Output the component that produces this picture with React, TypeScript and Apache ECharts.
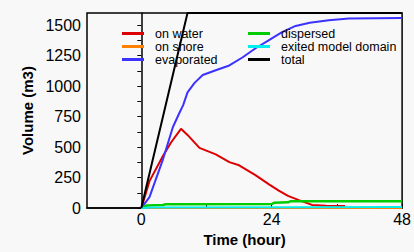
import React, { useEffect, useRef } from "react";
import * as echarts from "echarts";

const onWater: [number, number][] = [
  [0, 0], [1.5, 221], [4, 429], [5.5, 540], [7.3, 650], [8.5, 600], [10.7, 494], [13.7, 441],
  [16.2, 377], [18, 351], [21, 270], [23.5, 195], [25.3, 143], [27, 100], [29, 65],
  [31.4, 26], [34, 20], [37.5, 18],
];
const onShore: [number, number][] = [[0, 0], [48, 0]];
const evaporated: [number, number][] = [
  [0, 0], [1.5, 90], [4, 402], [5.8, 663], [7, 780], [7.7, 845], [8.5, 949], [9.8, 1027],
  [11.3, 1092], [13.7, 1131], [16.2, 1170], [18.6, 1235], [21.1, 1313], [23.5, 1378],
  [25.9, 1443], [28.4, 1494], [31, 1520], [34.5, 1541], [38.2, 1555], [48, 1558],
];
const dispersed: [number, number][] = [
  [0, 0], [0.5, 8], [1, 22], [4, 26], [4.5, 32], [24, 33], [24.5, 44], [27, 47], [27.5, 57], [48, 57],
];
const exited: [number, number][] = [[0, 0], [2, 5], [30, 6], [48, 8]];
const total: [number, number][] = [[0, 0], [8.5, 1600], [48, 1600]];

const xLabels = [0, 24, 48];
const xTicks = [0, 12, 24, 36, 48];
const yLabels = [0, 250, 500, 750, 1000, 1250, 1500];
const yTicks = [0, 125, 250, 375, 500, 625, 750, 875, 1000, 1125, 1250, 1375, 1500];

const FONT = "'Liberation Sans', Arial, sans-serif";

export default function App() {
  const ref = useRef<HTMLDivElement>(null);
  useEffect(() => {
    const chart = echarts.init(ref.current!, null, { renderer: "svg" });
    const mk = (name: string, data: [number, number][], color: string, w = 2) => ({
      name, type: "line", data, showSymbol: false, symbol: "none",
      lineStyle: { color, width: w }, itemStyle: { color }, z: 2,
    });
    const legendCommon = {
      orient: "vertical",
      icon: "rect",
      itemWidth: 22,
      itemHeight: 3,
      itemGap: 0,
      textStyle: { fontFamily: FONT, fontSize: 12.5, lineHeight: 12, color: "#000", padding: [0, 0, 0, 6] },
      selectedMode: false,
    };
    chart.setOption({
      animation: false,
      backgroundColor: "#f8f8f8",
      grid: { left: 87, right: 11, top: 13, bottom: 34, show: true, borderColor: "#000", borderWidth: 1.5, backgroundColor: "transparent" },
      legend: [
        { ...legendCommon, left: 117, top: 22, data: ["on water", "on shore", "evaporated"] },
        { ...legendCommon, left: 243, top: 22, data: ["dispersed", "exited model domain", "total"] },
      ],
      xAxis: {
        type: "value", min: -10, max: 48,
        name: "Time (hour)", nameLocation: "middle", nameGap: 18,
        nameTextStyle: { fontFamily: FONT, fontWeight: "bold", fontSize: 15, color: "#000", verticalAlign: "top" },
        axisLine: { lineStyle: { color: "#000", width: 1.5 }, onZero: false },
        axisTick: { inside: true, length: 4, customValues: xTicks, lineStyle: { color: "#000" } },
        axisLabel: { customValues: xLabels, fontFamily: FONT, fontSize: 16, color: "#000", margin: 3, formatter: (v: number) => String(v) },
        splitLine: { show: false },
      },
      yAxis: {
        type: "value", min: 0, max: 1600,
        name: "Volume (m3)", nameLocation: "middle", nameGap: 45,
        nameTextStyle: { fontFamily: FONT, fontWeight: "bold", fontSize: 15, color: "#000" },
        axisLine: { show: true, lineStyle: { color: "#000", width: 1.5 } },
        axisTick: { show: true, length: 4, customValues: yTicks, lineStyle: { color: "#000" } },
        axisLabel: { customValues: yLabels, fontFamily: FONT, fontSize: 16, color: "#000", margin: 6, formatter: (v: number) => String(v) },
        splitLine: { show: false },
      },
      series: [
        mk("on water", onWater, "#dd0000"),
        mk("on shore", onShore, "#ff8000"),
        mk("evaporated", evaporated, "#3c32ff"),
        mk("dispersed", dispersed, "#00cc00", 2.5),
        mk("exited model domain", exited, "#00eeee"),
        mk("total", total, "#000000"),
      ],
    });
    return () => chart.dispose();
  }, []);
  return (
    <div
      ref={ref}
      style={{ position: "fixed", left: 0, top: 0, width: 414, height: 252 }}
    />
  );
}
